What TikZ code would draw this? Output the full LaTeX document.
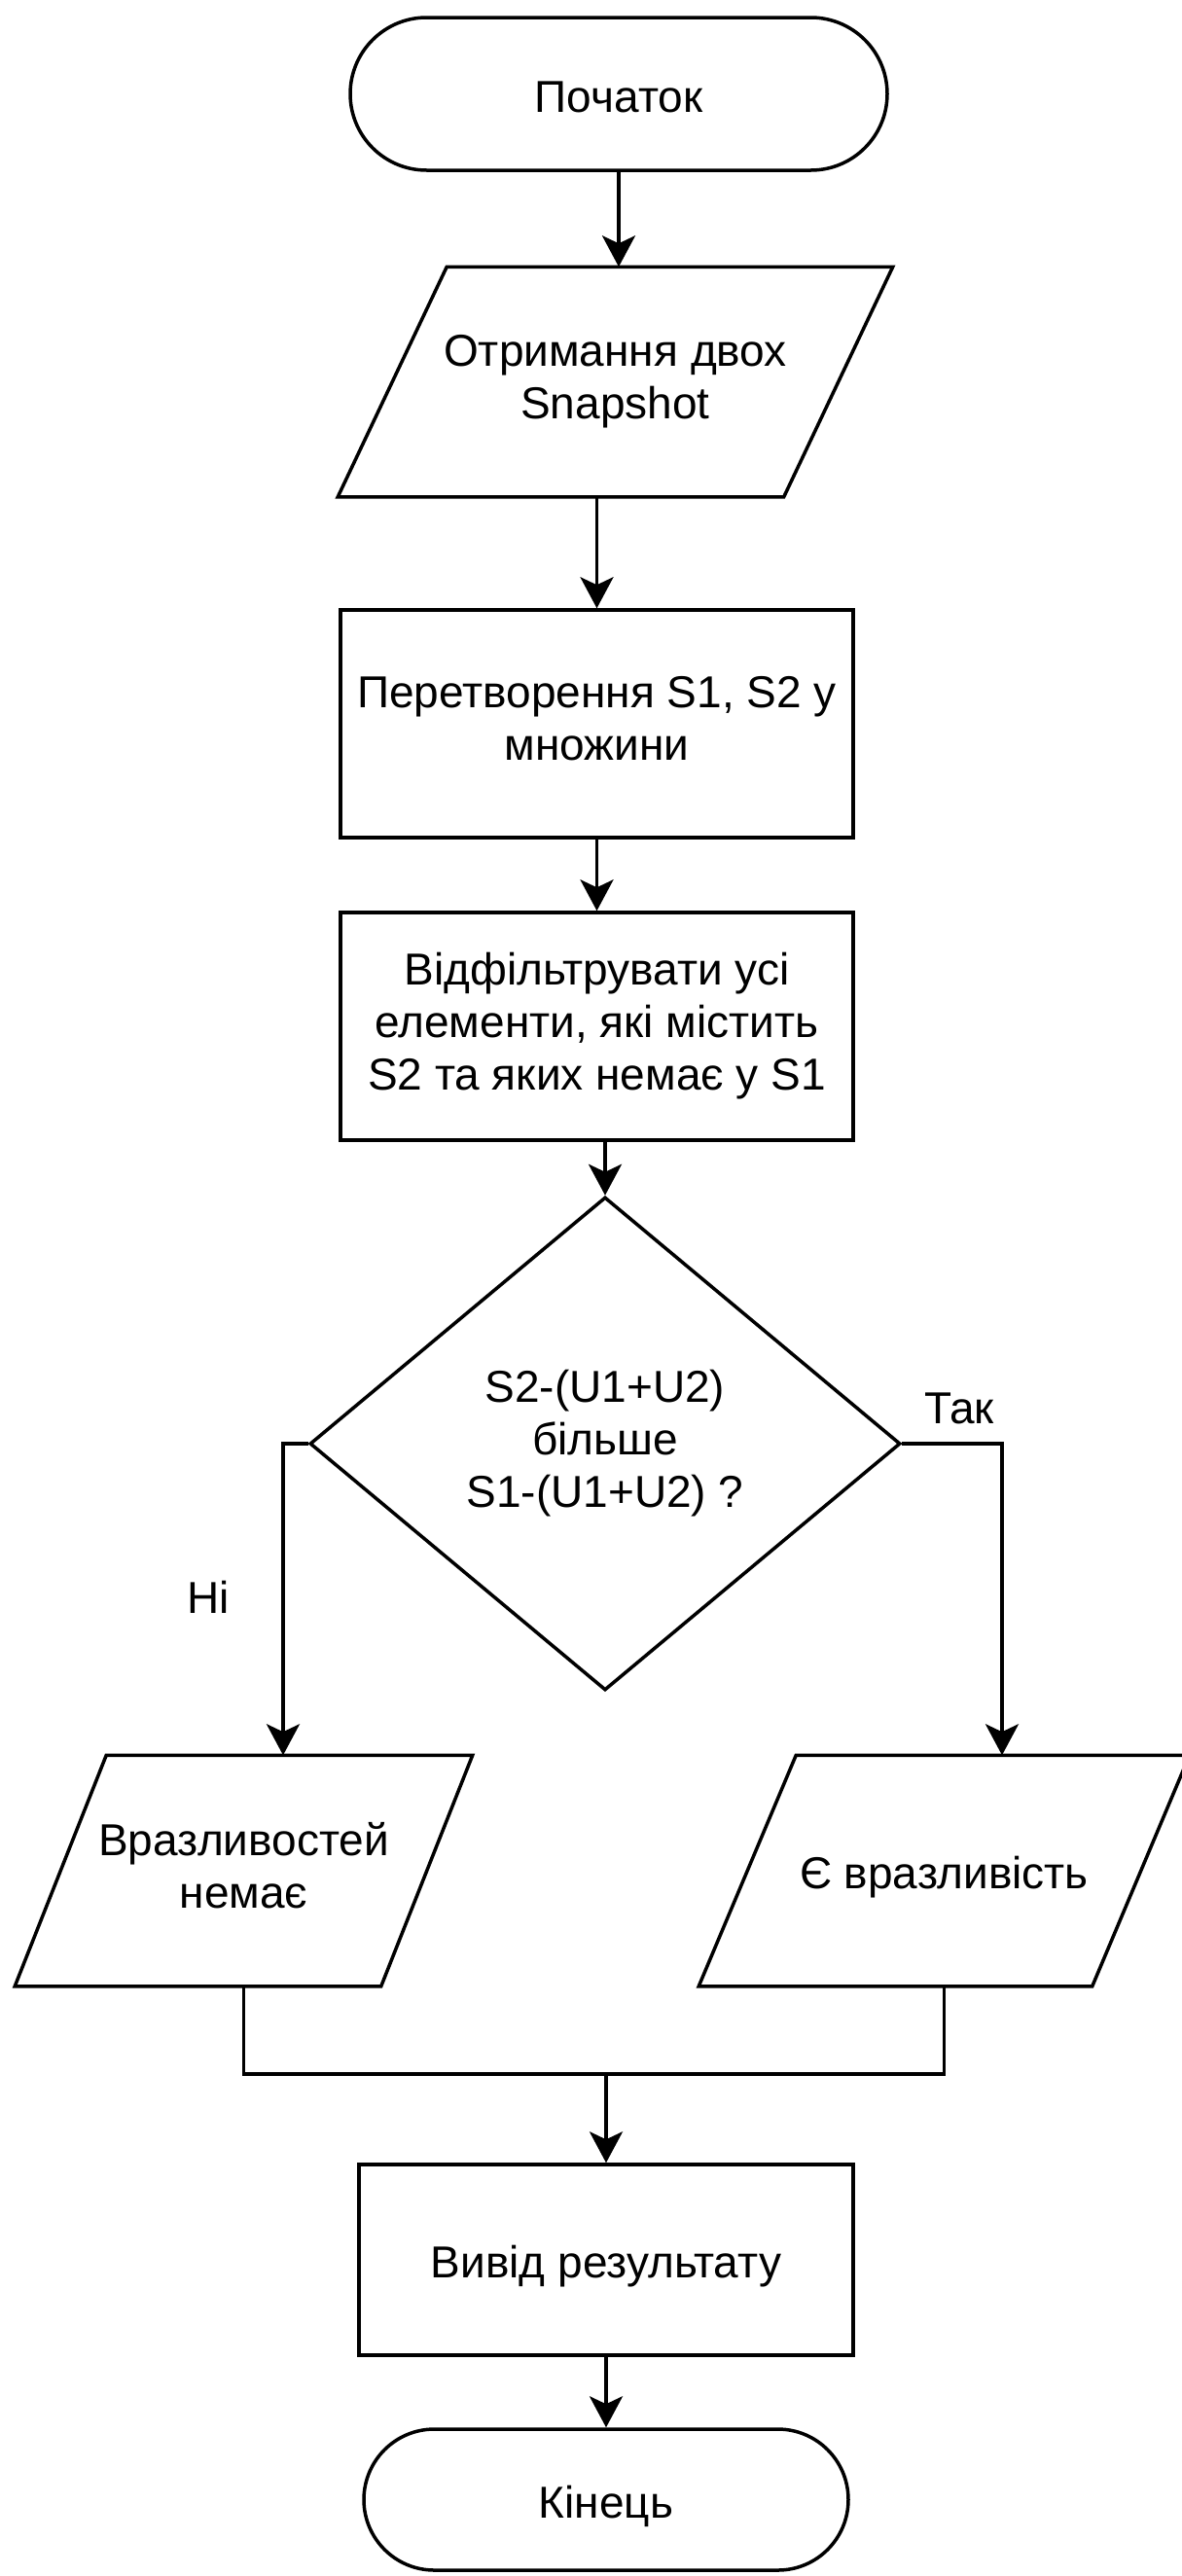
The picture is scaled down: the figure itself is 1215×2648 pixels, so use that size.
\documentclass[tikz,border=0pt]{standalone}
\usepackage{fontspec}
\setmainfont{Liberation Sans}
\usetikzlibrary{arrows.meta,shapes.geometric}

% outline of an input/output block around an (undrawn) rectangular node
\newcommand\ioframe[2]{%
  \draw[shapeline] ([xshift=#2]#1.north west) -- (#1.north east)
    -- ([xshift=-#2]#1.south east) -- (#1.south west) -- cycle;}

\begin{document}
\begin{tikzpicture}[x=1pt,y=-1pt,
  every node/.style={font=\fontsize{46}{54}\selectfont, align=center, inner sep=0pt,
    execute at begin node={\rule{0pt}{48pt}},
    execute at end node={\rule[-11pt]{0pt}{11pt}}},
  shapeline/.style={line width=3.5pt, black, line join=miter},
  arr/.style={line width=3.5pt, black, -{Stealth[length=32pt,width=34pt,inset=8pt]}},
  link/.style={line width=3.5pt, black},
  termbox/.style={draw, shapeline, rectangle, fill=white},
  procbox/.style={draw, shapeline, rectangle, fill=white},
  iobox/.style={rectangle, outer sep=1.75pt},
  decbox/.style={draw, shapeline, diamond, aspect=1.2, fill=white}
]
\useasboundingbox (0,0) rectangle (1215,2648);
\fill[white] (0,0) rectangle (1215,2648);
\clip (0,0) rectangle (1215,2648);

% blocks
\node[termbox, minimum width=552pt, minimum height=157pt, rounded corners=78.5pt] (start) at (636,96.5) {Початок};
\node[iobox, minimum width=567pt, minimum height=233pt] (in1) at (632.5,392.5) {Отримання двох\\Snapshot};
\node[procbox, minimum width=527pt, minimum height=234pt] (p1) at (613.5,744) {Перетворення S1, S2 у\\множини};
\node[procbox, minimum width=527pt, minimum height=234pt] (p2) at (613.5,1055) {Відфільтрувати усі\\елементи, які містить\\S2 та яких немає у S1};
\node[decbox, minimum width=607pt, minimum height=507pt] (dec) at (622,1484) {S2-(U1+U2)\\більше\\S1-(U1+U2) ?};
\node[iobox, minimum width=467pt, minimum height=234pt] (no) at (250.5,1923) {Вразливостей\\немає};
\node[iobox, minimum width=501pt, minimum height=234pt] (yes) at (970.5,1923) {Є вразливість};
\node[procbox, minimum width=508pt, minimum height=196pt] (p3) at (623,2323) {Вивід результату};
\node[termbox, minimum width=498pt, minimum height=145pt, rounded corners=72.5pt] (stop) at (623,2569.5) {Кінець};

\ioframe{in1}{112pt}
\ioframe{no}{94pt}
\ioframe{yes}{100pt}

% branch labels
\node (lyes) at (986,1445) {Так};
\node (lno) at (214,1640) {Ні};

% connectors
\draw[arr] (start.south) -- (start.south |- in1.north);
\draw[arr] (p1.north |- in1.south) -- (p1.north);
\draw[arr] (p1.south) -- (p2.north);
\draw[arr] (dec.north |- p2.south) -- (dec.north);
\draw[arr] (dec.west) -| ([xshift=40.5pt]no.north);
\draw[arr] (dec.east) -| ([xshift=59.5pt]yes.north);
\coordinate (merge) at (623,2132);
\draw[link] (no.south) |- (merge) -| (yes.south);
\draw[arr] (merge) -- (p3.north);
\draw[arr] (p3.south) -- (stop.north);
\end{tikzpicture}
\end{document}
